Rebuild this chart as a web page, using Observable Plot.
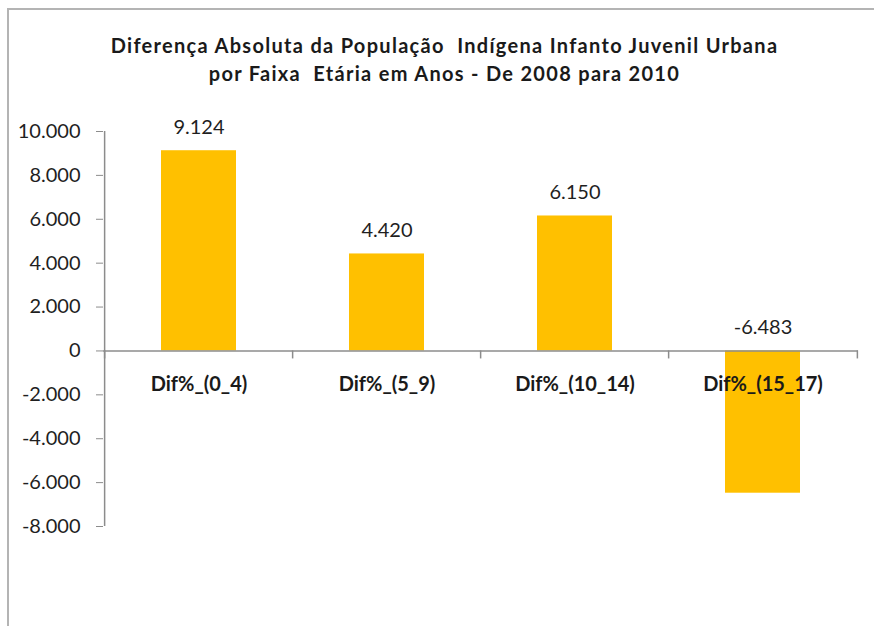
<!DOCTYPE html>
<html><head><meta charset="utf-8">
<script src="https://cdn.jsdelivr.net/npm/d3@7"></script>
<script src="https://cdn.jsdelivr.net/npm/@observablehq/plot@0.6"></script>
<style>
body{margin:0;background:#fff;}
#wrap{position:relative;width:874px;height:626px;overflow:hidden;background:#fff;}
#frame{position:absolute;left:7px;top:8px;width:900px;height:700px;border-left:2px solid #b4b4b4;border-top:2px solid #b4b4b4;}
#title{position:absolute;left:0;top:31px;width:889px;text-align:center;font:bold 20px Lato, sans-serif;letter-spacing:1.3px;line-height:28px;color:#1a1a1a;}
#chart{position:absolute;left:0;top:100px;}
</style></head>
<body>
<div id="wrap">
<div id="frame"></div>
<div id="title">Diferença Absoluta da População&nbsp; Indígena Infanto Juvenil Urbana<br>por Faixa&nbsp; Etária em Anos - De 2008 para 2010</div>
<div id="chart"></div>
</div>
<script>
const categories = ["Dif%_(0_4)", "Dif%_(5_9)", "Dif%_(10_14)", "Dif%_(15_17)"];
const values = [9124, 4420, 6150, -6483];
const yTicks = [-8000, -6000, -4000, -2000, 0, 2000, 4000, 6000, 8000, 10000];
const yDomain = [-8000, 10000];

const data = categories.map((c, i) => ({cat: c, value: values[i]}));
const fmt = d3.formatLocale({decimal: ",", thousands: ".", grouping: [3], currency: ["", ""], minus: "-"}).format(",d");

const W = 874, H = 526, mL = 103, mR = 16, mT = 31, mB = 100;
const pInner = 0.6, pOuter = 0.3;
const step = (W - mL - mR) / (categories.length - pInner + 2 * pOuter);
const axisColor = "#8c8c8c";

const chart = Plot.plot({
  width: W, height: H,
  marginLeft: mL, marginRight: mR, marginTop: mT, marginBottom: mB,
  style: {fontFamily: "Lato, sans-serif", fontSize: "20px", color: "#1f1f1f", background: "transparent"},
  x: {type: "band", domain: categories, paddingInner: pInner, paddingOuter: pOuter, axis: null},
  y: {domain: yDomain, axis: null},
  marks: [
    Plot.barY(data, {x: "cat", y: "value", fill: "#FFC000"}),
    Plot.axisY({ticks: yTicks, tickFormat: fmt, tickSize: 7, tickPadding: 16, stroke: axisColor, fill: "#1f1f1f", fontSize: 20, label: null}),
    Plot.ruleX([categories[0]], {y1: yDomain[0], y2: yDomain[1], dx: -step / 2, stroke: axisColor, strokeWidth: 1.5}),
    Plot.ruleY([0], {stroke: axisColor, strokeWidth: 1.5}),
    Plot.ruleX(categories, {x: d => d, y1: 0, y2: 0, insetBottom: -8, dx: -step / 2, stroke: axisColor, strokeWidth: 1.5}),
    Plot.ruleX([categories[categories.length - 1]], {y1: 0, y2: 0, insetBottom: -8, dx: step / 2, stroke: axisColor, strokeWidth: 1.5}),
    Plot.text(data, {x: "cat", y: d => Math.max(d.value, 0), text: d => fmt(d.value), dy: -23, fontSize: 20, fill: "#1f1f1f"}),
    Plot.text(categories, {x: d => d, y: d => 0, text: d => d, dy: 34, fontSize: 20, fontWeight: "bold", fill: "#1a1a1a"})
  ]
});
document.getElementById("chart").appendChild(chart);
</script>
</body></html>
